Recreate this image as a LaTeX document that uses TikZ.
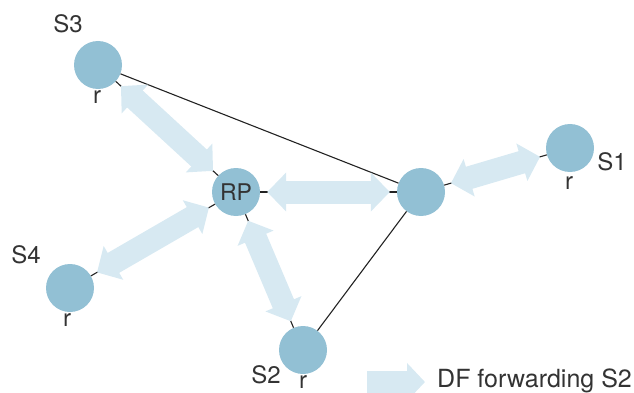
\documentclass[tikz,border=0pt]{standalone}
\usepackage{fontspec}
\setmainfont{TeX Gyre Heros}
\usetikzlibrary{arrows.meta}

\definecolor{nodeblue}{HTML}{92C0D4}
\definecolor{fwdblue}{HTML}{D7E9F2}
\definecolor{labelgray}{HTML}{333333}
\definecolor{linkgray}{HTML}{222222}

\tikzset{
  router/.style={circle, fill=nodeblue, minimum size=48pt, inner sep=0pt,
    text=labelgray, font=\fontsize{23}{26}\selectfont},
  lbl/.style={text=labelgray, inner sep=0pt, font=\fontsize{24}{28}\selectfont},
  link/.style={draw=linkgray, line width=1.1pt},
  fwd/.style={draw=fwdblue, line width=23pt, shorten <=7pt, shorten >=7pt,
    {Triangle[length=19pt, width=38pt]}-{Triangle[length=19pt, width=38pt]}},
}

\begin{document}
\begin{tikzpicture}[x=1pt, y=-1pt]
  \useasboundingbox (0,0) rectangle (634,393);

  % routers
  \node[router] (s3) at (98,65) {};
  \node[router] (rp) at (236,192) {RP};
  \node[router] (x)  at (421,192) {};
  \node[router] (s1) at (570,148) {};
  \node[router] (s4) at (70,288) {};
  \node[router] (s2) at (303,350) {};

  % names and role labels
  \node[lbl] (s3name) at (68,24) {S3};
  \node[lbl] (s3r) at (97,97) {r};
  \node[lbl] (s1name) at (612,162) {S1};
  \node[lbl] (s1r) at (569,183) {r};
  \node[lbl] (s4name) at (26,255) {S4};
  \node[lbl] (s4r) at (67,320) {r};
  \node[lbl] (s2name) at (266,375) {S2};
  \node[lbl] (s2r) at (303,382) {r};

  % physical links
  \draw[link] (s3) -- (rp);
  \draw[link] (s3) -- (x);
  \draw[link] (rp) -- (x);
  \draw[link] (x) -- (s1);
  \draw[link] (x) -- (s2);
  \draw[link] (rp) -- (s4);
  \draw[link] (rp) -- (s2);

  % DF forwarding paths
  \draw[fwd] (s3) -- (rp);
  \draw[fwd] (rp) -- (x);
  \draw[fwd] (x) -- (s1);
  \draw[fwd] (rp) -- (s4);
  \draw[fwd] (rp) -- (s2);

  % legend
  \coordinate (lga) at (367,382);
  \coordinate (lgb) at (425,382);
  \draw[draw=fwdblue, line width=22pt, -{Triangle[length=18pt, width=37pt]}] (lga) -- (lgb);
  \node[lbl, anchor=west, font=\fontsize{25}{29}\selectfont] (legend) at (437,381) {DF forwarding S2};
\end{tikzpicture}
\end{document}
